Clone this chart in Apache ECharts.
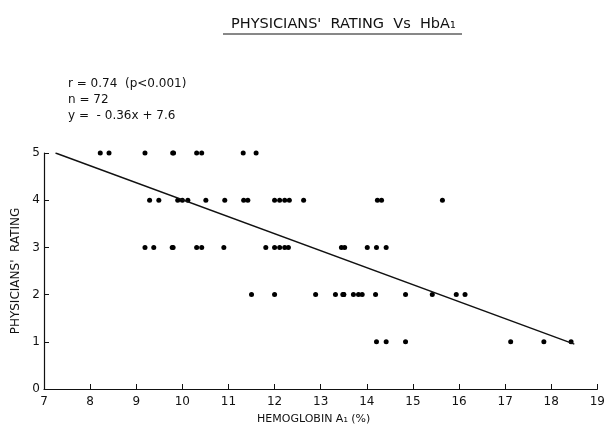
<!DOCTYPE html>
<html>
<head>
<meta charset="utf-8">
<script src="https://cdn.jsdelivr.net/npm/echarts@6/dist/echarts.min.js"></script>
<style>
html,body{margin:0;padding:0;background:#fff;}
#chart{width:608px;height:430px;}
</style>
</head>
<body>
<div id="chart"></div>
<script>
// ratings (y) and HbA1 values (x), one list per rating row
var rating5 = [8.22, 8.41, 9.19, 9.79, 9.81, 10.31, 10.42, 11.32, 11.6];
var rating4 = [9.29, 9.49, 9.9, 10.0, 10.12, 10.51, 10.92, 11.33, 11.42, 12.0, 12.11, 12.22, 12.32, 12.63, 14.23, 14.32, 15.64];
var rating3 = [9.19, 9.38, 9.78, 9.8, 10.31, 10.42, 10.9, 11.81, 12.0, 12.11, 12.22, 12.3, 13.45, 13.52, 14.01, 14.21, 14.42];
var rating2 = [11.5, 12.0, 12.89, 13.32, 13.48, 13.5, 13.5, 13.71, 13.82, 13.9, 14.19, 14.84, 15.42, 15.94, 16.13];
var rating1 = [14.21, 14.42, 14.84, 17.12, 17.84, 18.43, 19.03];
var fitLine = [[7.25, 5.0], [18.5, 0.95]];
var xTicks = [7, 8, 9, 10, 11, 12, 13, 14, 15, 16, 17, 18, 19];
var yTicks = [0, 1, 2, 3, 4, 5];

var points = [];
[[5, rating5], [4, rating4], [3, rating3], [2, rating2], [1, rating1]].forEach(function (row) {
	row[1].forEach(function (x) { points.push([x, row[0]]); });
});

var font = 'DejaVu Sans';
var myChart = echarts.init(document.getElementById('chart'));
var option = {
	backgroundColor: '#fff',
	animation: false,
	textStyle: { fontFamily: font, color: '#111' },
	grid: { left: 44, right: 10, top: 153, bottom: 33, containLabel: false },
	xAxis: {
		type: 'value',
		min: xTicks[0],
		max: xTicks[xTicks.length - 1],
		interval: 1,
		name: 'HEMOGLOBIN A\u2081 (%)',
		nameLocation: 'middle',
		nameGap: 25,
		nameTextStyle: { fontSize: 11, color: '#111', padding: [0, 14, 0, 0] },
		axisLine: { lineStyle: { color: '#111', width: 1.2 } },
		axisTick: { show: true, inside: true, length: 5, lineStyle: { color: '#111' } },
		axisLabel: { fontSize: 12, color: '#111', margin: 7 },
		splitLine: { show: false }
	},
	yAxis: {
		type: 'value',
		min: yTicks[0],
		max: yTicks[yTicks.length - 1],
		interval: 1,
		name: "PHYSICIANS'  RATING",
		nameLocation: 'middle',
		nameGap: 22,
		nameTextStyle: { fontSize: 12, color: '#111' },
		axisLine: { show: true, lineStyle: { color: '#111', width: 1.2 } },
		axisTick: { show: true, inside: true, length: 5, lineStyle: { color: '#111' } },
		axisLabel: { fontSize: 12, color: '#111', margin: 4 },
		splitLine: { show: false }
	},
	title: {
		text: "PHYSICIANS'  RATING  Vs  HbA\u2081",
		left: 226,
		top: 12,
		textStyle: { fontFamily: font, fontSize: 14.5, fontWeight: 'normal', color: '#111' }
	},
	graphic: [
		{
			type: 'line',
			shape: { x1: 223, y1: 34, x2: 462, y2: 34 },
			style: { stroke: '#111', lineWidth: 1 }
		},
		{
			type: 'text',
			left: 68,
			top: 76,
			style: {
				text: 'r = 0.74  (p<0.001)\nn = 72\ny =  - 0.36x + 7.6',
				font: '12px ' + font,
				lineHeight: 16,
				fill: '#111'
			}
		}
	],
	series: [
		{
			type: 'scatter',
			symbol: 'circle',
			symbolSize: 5,
			itemStyle: { color: '#000', opacity: 1 },
			data: points
		},
		{
			type: 'line',
			showSymbol: false,
			lineStyle: { color: '#111', width: 1.4 },
			data: fitLine
		}
	]
};
myChart.setOption(option);
</script>
</body>
</html>
